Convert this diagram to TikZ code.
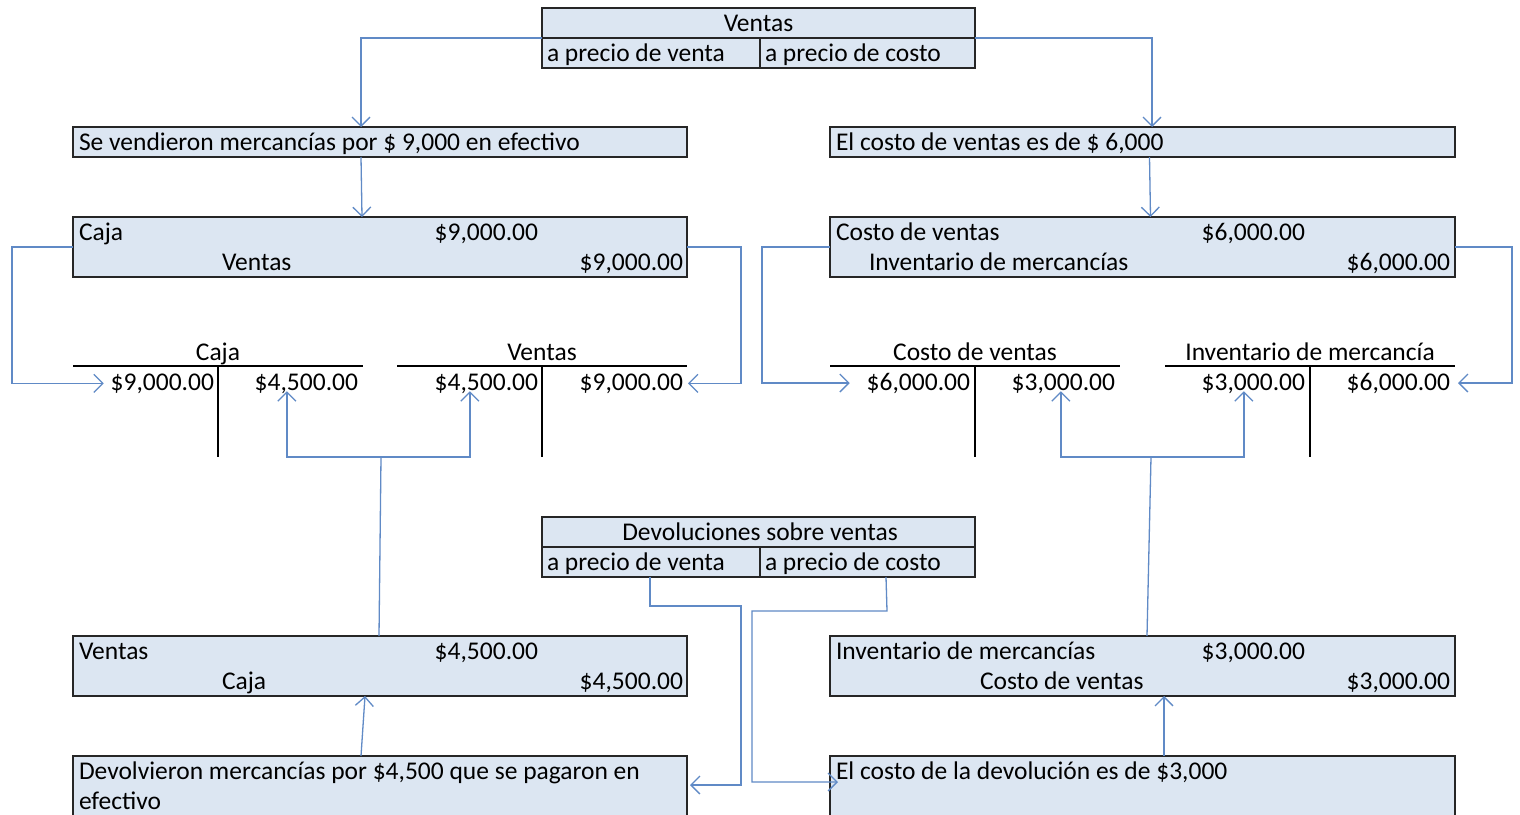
\documentclass[tikz,border=0pt]{standalone}
\usepackage{fontspec}
\setmainfont{Carlito}
\usetikzlibrary{arrows.meta}
\definecolor{boxfill}{RGB}{220,230,242}
\definecolor{connc}{RGB}{96,138,198}
\newcommand\dfont{\fontsize{25.5}{29}\selectfont}
\begin{document}
\begin{tikzpicture}[x=1pt,y=-1pt,
  box/.style={draw=black!85, fill=boxfill, line width=1.3pt, inner sep=0pt, outer sep=0pt, anchor=north west},
  rule/.style={draw=black!85, line width=1.3pt},
  tline/.style={draw=black, line width=1.2pt},
  lbl/.style={inner sep=0pt, outer sep=0pt, font=\dfont},
  conn/.style={draw=connc, line width=1.3pt},
  arr/.style={conn, -{Straight Barb[length=9pt,width=18pt,line width=1.3pt]}}]
\useasboundingbox (0,0) rectangle (1520,814);
\fill[white] (0,0) rectangle (1520,814);

% ---- top box Ventas
\node[box, minimum width=433pt, minimum height=60pt] (vt) at (542,8) {};
\draw[rule] (542,38) -- (975,38) (760,38) -- (760,68);
\node[lbl, anchor=base] (vtT) at (758.5,31) {Ventas};
\node[lbl, anchor=base west] (vtA) at (547,61) {a precio de venta};
\node[lbl, anchor=base west] (vtB) at (765,61) {a precio de costo};

% ---- description boxes
\node[box, minimum width=614pt, minimum height=30pt] (sv) at (73,127) {};
\node[lbl, anchor=base west] (svT) at (79,150) {Se vendieron mercancías por \$ 9,000 en efectivo};
\node[box, minimum width=625pt, minimum height=30pt] (ce) at (830,127) {};
\node[lbl, anchor=base west] (ceT) at (836,150) {El costo de ventas es de \$ 6,000};

% ---- journal entries (top)
\node[box, minimum width=614pt, minimum height=60pt] (j1) at (73,217) {};
\node[lbl, anchor=base west] (j1a) at (79,240) {Caja};
\node[lbl, anchor=base east] (j1b) at (538,240) {\$9,000.00};
\node[lbl, anchor=base west] (j1c) at (222,270) {Ventas};
\node[lbl, anchor=base east] (j1d) at (683,270) {\$9,000.00};

\node[box, minimum width=625pt, minimum height=60pt] (j2) at (830,217) {};
\node[lbl, anchor=base west] (j2a) at (836,240) {Costo de ventas};
\node[lbl, anchor=base east] (j2b) at (1305,240) {\$6,000.00};
\node[lbl, anchor=base west] (j2c) at (869,270) {Inventario de mercancías};
\node[lbl, anchor=base east] (j2d) at (1450,270) {\$6,000.00};

% ---- T accounts
\draw[tline] (73,366) -- (363,366) (218,366) -- (218,457);
\node[lbl, anchor=base] (tCaja) at (218,360) {Caja};
\node[lbl, anchor=base east] (c1) at (214,390) {\$9,000.00};
\node[lbl, anchor=base east] (c2) at (358,390) {\$4,500.00};

\draw[tline] (397,366) -- (687,366) (542,366) -- (542,457);
\node[lbl, anchor=base] (tVentas) at (542,360) {Ventas};
\node[lbl, anchor=base east] (v1) at (538,390) {\$4,500.00};
\node[lbl, anchor=base east] (v2) at (683,390) {\$9,000.00};

\draw[tline] (830,366) -- (1120,366) (975,366) -- (975,457);
\node[lbl, anchor=base] (tCosto) at (975,360) {Costo de ventas};
\node[lbl, anchor=base east] (cv1) at (970,390) {\$6,000.00};
\node[lbl, anchor=base east] (cv2) at (1115,390) {\$3,000.00};

\draw[tline] (1165,366) -- (1455,366) (1310,366) -- (1310,457);
\node[lbl, anchor=base] (tInv) at (1310,360) {Inventario de mercancía};
\node[lbl, anchor=base east] (im1) at (1305,390) {\$3,000.00};
\node[lbl, anchor=base east] (im2) at (1450,390) {\$6,000.00};

% ---- Devoluciones box
\node[box, minimum width=433pt, minimum height=60pt] (dv) at (542,517) {};
\draw[rule] (542,547) -- (975,547) (760,547) -- (760,577);
\node[lbl, anchor=base] (dvT) at (760,540) {Devoluciones sobre ventas};
\node[lbl, anchor=base west] (dvA) at (547,570) {a precio de venta};
\node[lbl, anchor=base west] (dvB) at (765,570) {a precio de costo};

% ---- journal entries (bottom)
\node[box, minimum width=614pt, minimum height=60pt] (j3) at (73,636) {};
\node[lbl, anchor=base west] (j3a) at (79,659) {Ventas};
\node[lbl, anchor=base east] (j3b) at (538,659) {\$4,500.00};
\node[lbl, anchor=base west] (j3c) at (222,689) {Caja};
\node[lbl, anchor=base east] (j3d) at (683,689) {\$4,500.00};

\node[box, minimum width=625pt, minimum height=60pt] (j4) at (830,636) {};
\node[lbl, anchor=base west] (j4a) at (836,659) {Inventario de mercancías};
\node[lbl, anchor=base east] (j4b) at (1305,659) {\$3,000.00};
\node[lbl, anchor=base west] (j4c) at (980,689) {Costo de ventas};
\node[lbl, anchor=base east] (j4d) at (1450,689) {\$3,000.00};

% ---- bottom description boxes
\node[box, minimum width=614pt, minimum height=60pt] (d1) at (73,756) {};
\node[lbl, anchor=base west] (d1a) at (79,779) {Devolvieron mercancías por \$4,500 que se pagaron en};
\node[lbl, anchor=base west] (d1b) at (79,809) {efectivo};
\node[box, minimum width=625pt, minimum height=60pt] (d2) at (830,756) {};
\node[lbl, anchor=base west] (d2a) at (836,779) {El costo de la devolución es de \$3,000};

% ---- connectors
\coordinate (k1) at (12,247);
\coordinate (k2) at (741,247);
\coordinate (k3) at (762,247);
\coordinate (k4) at (1512,247);
\coordinate (h1) at (381,457);
\coordinate (h2) at (1151,457);
\coordinate (m1) at (650,606);
\coordinate (m2) at (741,606);
\coordinate (m3) at (887,611);
\coordinate (m4) at (752,611);

\draw[arr] (vt.west) -| ([xshift=-19pt]sv.north);
\draw[arr] (vt.east) -| ([xshift=9.5pt]ce.north);
\draw[arr] ([xshift=-19pt]sv.south) -- ([xshift=-18pt]j1.north);
\draw[arr] ([xshift=7pt]ce.south) -- ([xshift=8pt]j2.north);

\draw[arr] (j1.west) -- (k1) |- ([xshift=-7pt]c1.west);
\draw[arr] (j1.east) -- (k2) |- ([xshift=5pt]v2.east);
\draw[arr] (j2.west) -- (k3) |- ([xshift=-17pt]cv1.west);
\draw[arr] (j2.east) -- (k4) |- ([xshift=8pt]im2.east);

\draw[conn] ([xshift=-1pt]j3.north) -- (h1);
\draw[arr] (h1) -| ([xshift=-19.5pt,yshift=2pt]c2.south);
\draw[arr] (h1) -| ([xshift=-16.5pt,yshift=2pt]v1.south);
\draw[conn] ([xshift=4.5pt]j4.north) -- (h2);
\draw[arr] (h2) -| ([xshift=-2.5pt,yshift=2pt]cv2.south);
\draw[arr] (h2) -| ([xshift=-9.5pt,yshift=2pt]im1.south);

\draw[arr] ([xshift=-108.5pt]dv.south) -- (m1) -- (m2) |- ([xshift=3pt,yshift=1pt]d1.east);
\draw[arr] ([xshift=127.5pt]dv.south) -- (m3) -- (m4) |- ([xshift=8pt,yshift=4pt]d2.west);

\draw[arr] ([xshift=-19pt]d1.north) -- ([xshift=-15pt]j3.south);
\draw[arr] ([xshift=21.5pt]d2.north) -- ([xshift=21.5pt]j4.south);
\end{tikzpicture}
\end{document}
